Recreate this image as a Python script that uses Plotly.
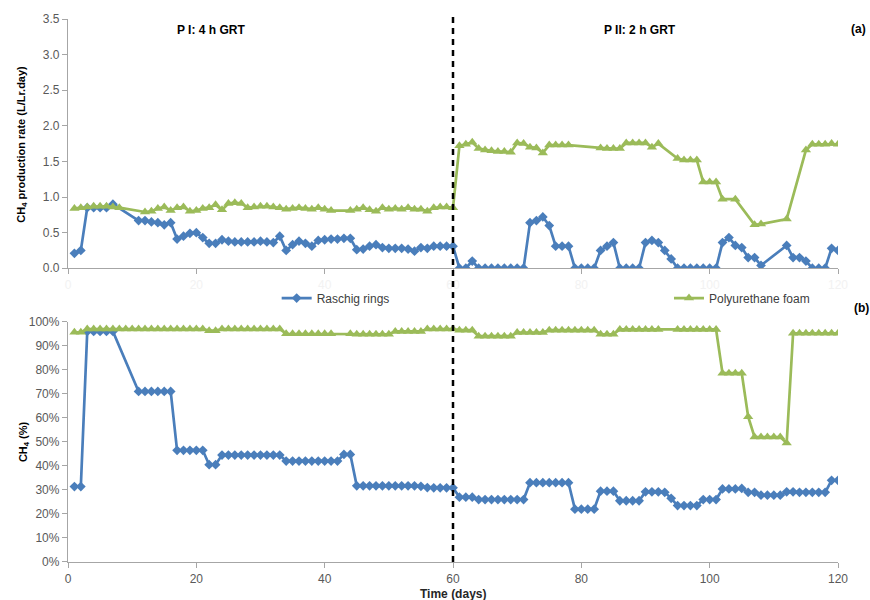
import plotly.graph_objects as go
from plotly.subplots import make_subplots

# ---------------- DATA ----------------
# (a) CH4 production rate (L/Lr.day)
days_rate_rr = [1, 2, 3, 4, 5, 6, 7, 11, 12, 13, 14, 15, 16, 17, 18, 19, 20, 21, 22, 23, 24,
                25, 26, 27, 28, 29, 30, 31, 32, 33, 34, 35, 36, 37, 38, 39, 40, 41, 42, 43, 44,
                45, 46, 47, 48, 49, 50, 51, 52, 53, 54, 55, 56, 57, 58, 59, 60,
                61, 62, 63, 64, 65, 66, 67, 68, 69, 70, 71, 72, 73, 74, 75, 76, 77, 78,
                79, 80, 81, 82, 83, 84, 85, 86, 87, 88, 89, 90, 91, 92, 93, 94,
                95, 96, 97, 98, 99, 100, 101, 102, 103, 104, 105, 106, 107, 108,
                112, 113, 114, 115, 116, 117, 118, 119, 120]
rate_rr = [0.21, 0.25, 0.85, 0.85, 0.85, 0.85, 0.90, 0.67, 0.67, 0.65, 0.64, 0.61, 0.64, 0.41, 0.45, 0.49, 0.50, 0.43, 0.35, 0.35, 0.40,
           0.38, 0.37, 0.37, 0.37, 0.37, 0.38, 0.37, 0.36, 0.45, 0.25, 0.33, 0.38, 0.35, 0.31, 0.39, 0.40, 0.41, 0.41, 0.42, 0.42,
           0.26, 0.27, 0.31, 0.33, 0.29, 0.28, 0.28, 0.28, 0.27, 0.24, 0.29, 0.28, 0.31, 0.31, 0.31, 0.31,
           0.00, 0.00, 0.10, 0.00, 0.00, 0.00, 0.00, 0.00, 0.00, 0.00, 0.00, 0.64, 0.67, 0.72, 0.60, 0.31, 0.31, 0.31,
           0.00, 0.00, 0.00, 0.00, 0.25, 0.31, 0.36, 0.00, 0.00, 0.00, 0.00, 0.36, 0.39, 0.36, 0.25, 0.13,
           0.00, 0.00, 0.00, 0.00, 0.00, 0.00, 0.00, 0.36, 0.43, 0.32, 0.29, 0.15, 0.15, 0.04,
           0.32, 0.15, 0.15, 0.10, 0.00, 0.00, 0.00, 0.28, 0.25]

days_rate_pu = [1, 2, 3, 4, 5, 6, 7, 8, 12, 13, 14, 15, 16, 17, 18, 19, 20, 21, 22, 23, 24,
                25, 26, 27, 28, 29, 30, 31, 32, 33, 34, 35, 36, 37, 38, 39, 40, 41,
                44, 45, 46, 47, 48, 49, 50, 51, 52, 53, 54, 55, 56, 57, 58, 59, 60,
                61, 62, 63, 64, 65, 66, 67, 68, 69, 70, 71, 72, 73, 74, 75, 76, 77, 78,
                83, 84, 85, 86, 87, 88, 89, 90, 91, 92, 95, 96, 97, 98, 99, 100, 101,
                102, 104, 107, 108, 112, 115, 116, 117, 118, 119, 120]
rate_pu = [0.84, 0.85, 0.86, 0.87, 0.87, 0.87, 0.86, 0.85, 0.79, 0.80, 0.84, 0.86, 0.81, 0.85, 0.86, 0.80, 0.81, 0.84, 0.85, 0.89, 0.82,
           0.91, 0.92, 0.91, 0.85, 0.86, 0.87, 0.87, 0.86, 0.85, 0.83, 0.84, 0.85, 0.84, 0.83, 0.85, 0.83, 0.81,
           0.81, 0.83, 0.85, 0.82, 0.80, 0.85, 0.83, 0.84, 0.83, 0.85, 0.83, 0.83, 0.80, 0.85, 0.86, 0.86, 0.85,
           1.72, 1.74, 1.77, 1.68, 1.66, 1.65, 1.64, 1.64, 1.63, 1.76, 1.75, 1.70, 1.69, 1.62, 1.73, 1.73, 1.73, 1.73,
           1.69, 1.68, 1.68, 1.68, 1.76, 1.76, 1.76, 1.76, 1.70, 1.75, 1.54, 1.52, 1.52, 1.52, 1.21, 1.21, 1.21,
           0.97, 0.97, 0.61, 0.62, 0.69, 1.66, 1.74, 1.74, 1.74, 1.75, 1.74]

# (b) CH4 content (%)
days_ch4_rr = [1, 2, 3, 4, 5, 6, 7, 11, 12, 13, 14, 15, 16, 17, 18, 19, 20, 21, 22, 23,
               24, 25, 26, 27, 28, 29, 30, 31, 32, 33, 34, 35, 36, 37, 38, 39, 40, 41, 42, 43, 44,
               45, 46, 47, 48, 49, 50, 51, 52, 53, 54, 55, 56, 57, 58, 59, 60,
               61, 62, 63, 64, 65, 66, 67, 68, 69, 70, 71, 72, 73, 74, 75, 76, 77, 78,
               79, 80, 81, 82, 83, 84, 85, 86, 87, 88, 89, 90, 91, 92, 93, 94,
               95, 96, 97, 98, 99, 100, 101, 102, 103, 104, 105, 106, 107,
               108, 109, 110, 111, 112, 113, 114, 115, 116, 117, 118, 119, 120]
ch4_rr = [31.4, 31.4, 96.0, 96.0, 96.0, 96.0, 96.0, 71.0, 71.0, 71.0, 71.0, 71.0, 71.0, 46.5, 46.5, 46.5, 46.5, 46.5, 40.5, 40.5,
          44.5, 44.5, 44.5, 44.5, 44.5, 44.5, 44.5, 44.5, 44.5, 44.5, 42.0, 42.0, 42.0, 42.0, 42.0, 42.0, 42.0, 42.0, 42.0, 44.8, 44.8,
          31.7, 31.7, 31.7, 31.7, 31.7, 31.7, 31.7, 31.7, 31.7, 31.7, 31.5, 31.0, 30.9, 30.9, 30.9, 30.9,
          27.0, 27.0, 27.0, 26.0, 26.0, 26.0, 26.0, 26.0, 26.0, 26.0, 26.0, 33.0, 33.0, 33.0, 33.0, 33.0, 33.0, 33.0,
          22.0, 22.0, 22.0, 22.0, 29.5, 29.5, 29.5, 25.5, 25.5, 25.5, 25.5, 29.2, 29.2, 29.2, 29.0, 26.5,
          23.5, 23.5, 23.5, 23.5, 26.0, 26.0, 26.0, 30.4, 30.4, 30.4, 30.6, 29.0, 29.0,
          27.8, 27.8, 27.8, 27.8, 29.2, 29.2, 29.0, 29.0, 29.0, 29.0, 29.0, 34.0, 34.0]

days_ch4_pu = [1, 2, 3, 4, 5, 6, 7, 8, 9, 10, 11, 12, 13, 14, 15, 16, 17, 18, 19, 20, 21,
               22, 23, 24, 25, 26, 27, 28, 29, 30, 31, 32, 33, 34, 35, 36, 37, 38, 39, 40, 41,
               44, 45, 46, 47, 48, 49, 50, 51, 52, 53, 54, 55, 56, 57, 58, 59, 60,
               61, 62, 63, 64, 65, 66, 67, 68, 69, 70, 71, 72, 73, 74, 75, 76, 77, 78, 79, 80, 81, 82,
               83, 84, 85, 86, 87, 88, 89, 90, 91, 92, 95, 96, 97, 98, 99, 100, 101,
               102, 103, 104, 105, 106, 107, 108, 109, 110, 111, 112,
               113, 114, 115, 116, 117, 118, 119, 120]
ch4_pu = [95.6, 95.6, 97.0, 97.0, 97.0, 97.0, 97.0, 97.0, 97.0, 97.0, 97.0, 97.0, 97.0, 97.0, 97.0, 97.0, 97.0, 97.0, 97.0, 97.0, 97.0,
          96.3, 96.3, 97.0, 97.0, 97.0, 97.0, 97.0, 97.0, 97.0, 97.0, 97.0, 97.0, 95.0, 95.0, 95.0, 95.0, 95.0, 95.0, 95.0, 95.0,
          95.0, 94.8, 94.8, 94.8, 94.8, 94.8, 94.8, 96.0, 96.0, 96.0, 96.0, 96.0, 97.0, 97.0, 97.0, 97.0, 97.0,
          96.5, 96.5, 96.5, 94.0, 94.0, 94.0, 94.0, 94.0, 94.0, 95.5, 95.5, 95.5, 95.5, 95.5, 96.5, 96.5, 96.5, 96.5, 96.5, 96.5, 96.5, 96.5,
          94.8, 94.8, 94.8, 96.8, 96.8, 96.8, 96.8, 96.8, 96.8, 96.8, 96.8, 96.8, 96.8, 96.8, 96.8, 96.8, 96.8,
          78.6, 78.6, 78.6, 78.6, 60.5, 52.0, 52.0, 52.0, 52.0, 52.0, 49.5,
          95.2, 95.2, 95.2, 95.2, 95.2, 95.2, 95.2, 95.2]

x_ticks = [0, 20, 40, 60, 80, 100, 120]
rate_ticks = [0.0, 0.5, 1.0, 1.5, 2.0, 2.5, 3.0, 3.5]
pct_ticks = [0, 10, 20, 30, 40, 50, 60, 70, 80, 90, 100]
pct_labels = [f"{v}%" for v in pct_ticks]
series_names = ["Raschig rings", "Polyurethane foam"]
phase_change_day = 60

# ---------------- STYLE ----------------
BLUE = "#4A7EBB"
GREEN = "#9BBB59"
AXIS = "#A6A6A6"
TICKTXT = "#595959"
FONT = "Liberation Sans"

fig = make_subplots(rows=2, cols=1, shared_xaxes=False, vertical_spacing=0.0)

blue_style = dict(mode="lines+markers", line=dict(color=BLUE, width=2.7),
                  marker=dict(symbol="diamond", size=7.5, color=BLUE))
green_style = dict(mode="lines+markers", line=dict(color=GREEN, width=2.7),
                   marker=dict(symbol="triangle-up", size=9, color=GREEN))

fig.add_trace(go.Scatter(x=days_rate_rr, y=rate_rr, name=series_names[0], legendgroup="rr",
                         legend="legend", showlegend=True, **blue_style), row=1, col=1)
fig.add_trace(go.Scatter(x=days_rate_pu, y=rate_pu, name=series_names[1], legendgroup="pu",
                         legend="legend2", showlegend=True, **green_style), row=1, col=1)
fig.add_trace(go.Scatter(x=days_ch4_rr, y=ch4_rr, name=series_names[0], legendgroup="rr",
                         showlegend=False, **blue_style), row=2, col=1)
fig.add_trace(go.Scatter(x=days_ch4_pu, y=ch4_pu, name=series_names[1], legendgroup="pu",
                         showlegend=False, **green_style), row=2, col=1)

common_x = dict(range=[0, 120], tickvals=x_ticks, showgrid=False, zeroline=False,
                showline=True, linecolor=AXIS, linewidth=1.3, ticks="outside",
                ticklen=5, tickcolor=AXIS)
fig.update_layout(
    xaxis=dict(**common_x, domain=[0, 1], tickfont=dict(family=FONT, size=12, color="#F2F2F2")),
    xaxis2=dict(**common_x, domain=[0, 1], tickfont=dict(family=FONT, size=12, color=TICKTXT)),
    yaxis=dict(domain=[0.541, 1.0], range=[0, 3.5], tickvals=rate_ticks, tickformat=".1f",
               showgrid=False, zeroline=False, showline=True, linecolor=AXIS, linewidth=1.3,
               ticks="outside", ticklen=5, tickcolor=AXIS,
               tickfont=dict(family=FONT, size=12, color=TICKTXT)),
    yaxis2=dict(domain=[0.0, 0.4424], range=[0, 100], tickmode="array", tickvals=pct_ticks,
                ticktext=pct_labels,
                showgrid=False, zeroline=False, showline=True, linecolor=AXIS, linewidth=1.3,
                ticks="outside", ticklen=5, tickcolor=AXIS,
                tickfont=dict(family=FONT, size=12, color=TICKTXT)),
)

# dashed separator between phases, spanning both panels
fig.add_shape(type="line", xref="x2", yref="paper", x0=phase_change_day, x1=phase_change_day,
              y0=0.0, y1=1.005, line=dict(color="black", width=2.5, dash="6px,5px"))

ann_font = dict(family=FONT, size=12, color="black")
annotations = [
    dict(text="<b>P I: 4 h GRT</b>", xref="x", yref="y", x=22.3, y=3.34),
    dict(text="<b>P II: 2 h GRT</b>", xref="x", yref="y", x=89.2, y=3.34),
    dict(text="<b>(a)</b>", xref="paper", yref="paper", x=1.026, y=0.981),
    dict(text="<b>(b)</b>", xref="paper", yref="paper", x=1.031, y=0.468),
]
for a in annotations:
    a.update(showarrow=False, font=ann_font, xanchor="center", yanchor="middle")
annotations += [
    dict(text="<b>CH<sub>4</sub> production rate (L/Lr.day)</b>", xref="paper", yref="paper",
         x=-0.060, y=0.77, textangle=-90, showarrow=False, xanchor="center", yanchor="middle",
         font=dict(family=FONT, size=11, color="black")),
    dict(text="<b>CH<sub>4</sub> (%)</b>", xref="paper", yref="paper",
         x=-0.057, y=0.221, textangle=-90, showarrow=False, xanchor="center", yanchor="middle",
         font=dict(family=FONT, size=11, color="black")),
    dict(text="<b>Time (days)</b>", xref="paper", yref="paper", x=0.5, y=-0.059,
         showarrow=False, xanchor="center", yanchor="middle",
         font=dict(family=FONT, size=12, color="#262626")),
]
fig.update_layout(annotations=annotations)

legend_common = dict(orientation="h", y=0.486, xanchor="left", yanchor="middle",
                     font=dict(family=FONT, size=12, color="#404040"),
                     bgcolor="rgba(0,0,0,0)")
fig.update_layout(
    width=870, height=600,
    margin=dict(l=68, r=32, t=15, b=38),
    paper_bgcolor="white", plot_bgcolor="white",
    showlegend=True,
    legend=dict(x=0.271, **legend_common),
    legend2=dict(x=0.7805, **legend_common),
)

fig.write_html("out.html")
